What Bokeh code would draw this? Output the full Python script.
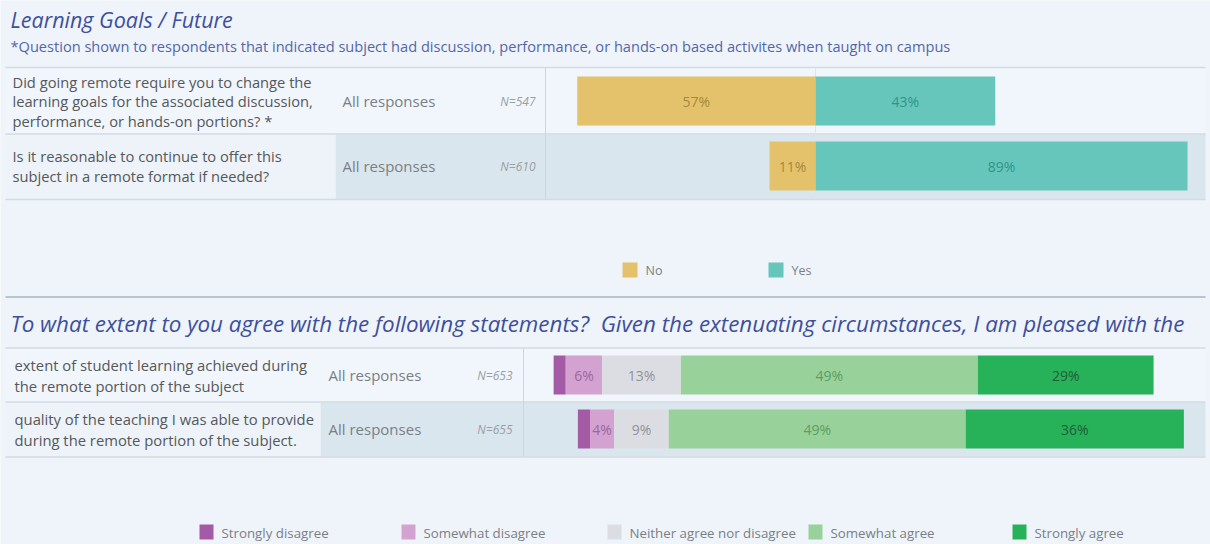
import numpy as np
from bokeh.plotting import figure
from bokeh.models import Range1d, ColumnDataSource
from bokeh.core.properties import value
from bokeh.embed import file_html
from bokeh.resources import INLINE

# ---------------- data ----------------
title_top = "Learning Goals / Future"
subtitle_top = ("*Question shown to respondents that indicated subject had discussion, "
                "performance, or hands-on based activites when taught on campus")
yn_questions = [
    ["Did going remote require you to change the",
     "learning goals for the associated discussion,",
     "performance, or hands-on portions? *"],
    ["Is it reasonable to continue to offer this",
     "subject in a remote format if needed?"],
]
yn_group = ["All responses", "All responses"]
yn_n = ["N=547", "N=610"]
yn_no = [57, 11]
yn_yes = [43, 89]
yn_legend = ["No", "Yes"]

title_bottom = ("To what extent to you agree with the following statements?\u00a0 "
                "Given the extenuating circumstances, I am pleased with the")
lk_statements = [
    ["extent of student learning achieved during",
     "the remote portion of the subject"],
    ["quality of the teaching I was able to provide",
     "during the remote portion of the subject."],
]
lk_group = ["All responses", "All responses"]
lk_n = ["N=653", "N=655"]
strongly_disagree = [2, 2]
somewhat_disagree = [6, 4]
neither = [13, 9]
somewhat_agree = [49, 49]
strongly_agree = [29, 36]
lk_legend = ["Strongly disagree", "Somewhat disagree", "Neither agree nor disagree",
             "Somewhat agree", "Strongly agree"]

# ---------------- styles ----------------
FONT = "Open Sans"
BG = "#eef4fa"
BAND = "#dae6ee"
SEP = "#d3dae1"
TITLE_C = "#3e4f9c"
TEXT_C = "#55585c"
GRAY_C = "#7b7f84"
N_C = "#9a9ea3"
yn_colors = ["#e4c26b", "#66c6bc"]
yn_text = ["#a4893c", "#2f958a"]
lk_colors = ["#a45ba6", "#d4a2d0", "#dcdde3", "#99d19b", "#27b25a"]
lk_text = ["#7a3f7e", "#9a679f", "#8e9399", "#5c9d62", "#1d5e36"]

W, H = 1210, 544
p = figure(width=W, height=H, x_range=Range1d(0, W), y_range=Range1d(H, 0),
           output_backend="svg", toolbar_location=None, min_border=0,
           x_axis_location=None, y_axis_location=None,
           background_fill_color=BG, border_fill_color=BG, outline_line_color=None)
p.grid.visible = False

# scales: top section (px = 815 + 4.18*v), bottom section (px = 641 + 6.06*v)
p.extra_x_ranges = {
    "yn": Range1d(-815 / 4.18, (W - 815) / 4.18),
    "lk": Range1d(-641 / 6.06, (W - 641) / 6.06),
}


def txt(x, y, s, size, color, align="left", style="normal", baseline="middle"):
    p.text(x=[x], y=[y], text=[s], text_font=value(FONT), text_font_size=f"{size}px",
           text_color=color, text_align=align, text_baseline=baseline,
           text_font_style=style)


# ---------------- top section ----------------
txt(10, 19, title_top, 21.5, TITLE_C, style="italic")
txt(10, 45, subtitle_top, 14.6, "#5566a8")

top_rows = [(67, 133), (134, 199)]
for i, (y0, y1) in enumerate(top_rows):
    if i % 2 == 1:
        p.quad(left=335, right=1205, top=y0, bottom=y1, fill_color=BAND, line_color=None)
        p.quad(left=5, right=335, top=y0, bottom=y1, fill_color="#edf3f8", line_color=None)
    else:
        p.quad(left=5, right=1205, top=y0, bottom=y1, fill_color="#f0f6fb", line_color=None)
p.segment(x0=5, x1=1205, y0=[67, 133.5, 199], y1=[67, 133.5, 199], line_color=SEP, line_width=1.5)
p.segment(x0=545, x1=545, y0=67, y1=199, line_color="#cdd5dc", line_width=1)
p.segment(x0=0, x1=0, y0=67, y1=199, line_color="#dde4ea", line_width=1, x_range_name="yn")

top_centers = [100.5, 165.5]
for i, c in enumerate(top_centers):
    lines = yn_questions[i]
    n = len(lines)
    for j, s in enumerate(lines):
        txt(12, c + (j - (n - 1) / 2) * 19.5, s, 14.7, TEXT_C)
    txt(342, c, yn_group[i], 15, GRAY_C)
    txt(535, c, yn_n[i], 12, N_C, align="right", style="italic")

no = np.array(yn_no, float)
yes = np.array(yn_yes, float)
src_no = ColumnDataSource(dict(y=top_centers, left=-no, right=np.zeros(2),
                               mid=-no / 2, lab=[f"{v:.0f}%" for v in no]))
src_yes = ColumnDataSource(dict(y=top_centers, left=np.zeros(2), right=yes,
                                mid=yes / 2, lab=[f"{v:.0f}%" for v in yes]))
for src, col, tc in [(src_no, yn_colors[0], yn_text[0]), (src_yes, yn_colors[1], yn_text[1])]:
    p.hbar(y="y", left="left", right="right", height=49, source=src, fill_color=col,
           line_color=None, x_range_name="yn")
    p.text(x="mid", y="y", text="lab", source=src, x_range_name="yn", text_align="center",
           text_baseline="middle", text_font=value(FONT), text_font_size="14px",
           text_color=tc)

# top legend
for k, (lx, lab) in enumerate(zip([622, 768], yn_legend)):
    p.quad(left=lx, right=lx + 15, top=262, bottom=277, fill_color=yn_colors[k], line_color=None)
    txt(lx + 23, 270, lab, 12.5, GRAY_C)

p.segment(x0=5, x1=1205, y0=296.5, y1=296.5, line_color="#b8c4d2", line_width=2)

# ---------------- bottom section ----------------
txt(10, 323, title_bottom, 22.4, TITLE_C, style="italic")

bot_rows = [(348, 401), (402, 456)]
for i, (y0, y1) in enumerate(bot_rows):
    if i % 2 == 1:
        p.quad(left=320, right=1205, top=y0, bottom=y1, fill_color=BAND, line_color=None)
        p.quad(left=5, right=320, top=y0, bottom=y1, fill_color="#edf3f8", line_color=None)
    else:
        p.quad(left=5, right=1205, top=y0, bottom=y1, fill_color="#f0f6fb", line_color=None)
p.segment(x0=5, x1=1205, y0=[347.5, 401.5, 456.5], y1=[347.5, 401.5, 456.5],
          line_color=SEP, line_width=1.5)
p.segment(x0=523, x1=523, y0=348, y1=456, line_color="#cdd5dc", line_width=1)

bot_centers = [374.5, 428.5]
for i, c in enumerate(bot_centers):
    lines = lk_statements[i]
    n = len(lines)
    for j, s in enumerate(lines):
        txt(14, c + (j - (n - 1) / 2) * 21, s, 14.8, TEXT_C)
    txt(328, c, lk_group[i], 15, GRAY_C)
    txt(512, c, lk_n[i], 12, N_C, align="right", style="italic")

vals = np.array([strongly_disagree, somewhat_disagree, neither, somewhat_agree, strongly_agree], float)
start = -(vals[0] + vals[1] + vals[2] / 2)
cum = start.copy()
for k in range(5):
    left = cum.copy()
    right = cum + vals[k]
    labs = [f"{v:.0f}%" if v >= 3 else "" for v in vals[k]]
    src = ColumnDataSource(dict(y=bot_centers, left=left, right=right,
                                mid=(left + right) / 2, lab=labs))
    p.hbar(y="y", left="left", right="right", height=39, source=src, fill_color=lk_colors[k],
           line_color=None, x_range_name="lk")
    p.text(x="mid", y="y", text="lab", source=src, x_range_name="lk", text_align="center",
           text_baseline="middle", text_font=value(FONT), text_font_size="14px",
           text_color=lk_text[k])
    cum = right

# bottom legend
for k, (lx, lab) in enumerate(zip([199, 401, 607, 808, 1012], lk_legend)):
    p.quad(left=lx, right=lx + 14, top=524, bottom=539, fill_color=lk_colors[k], line_color=None)
    txt(lx + 22, 532, lab, 13.3, GRAY_C)

open("out.html", "w").write(file_html(p, INLINE))
